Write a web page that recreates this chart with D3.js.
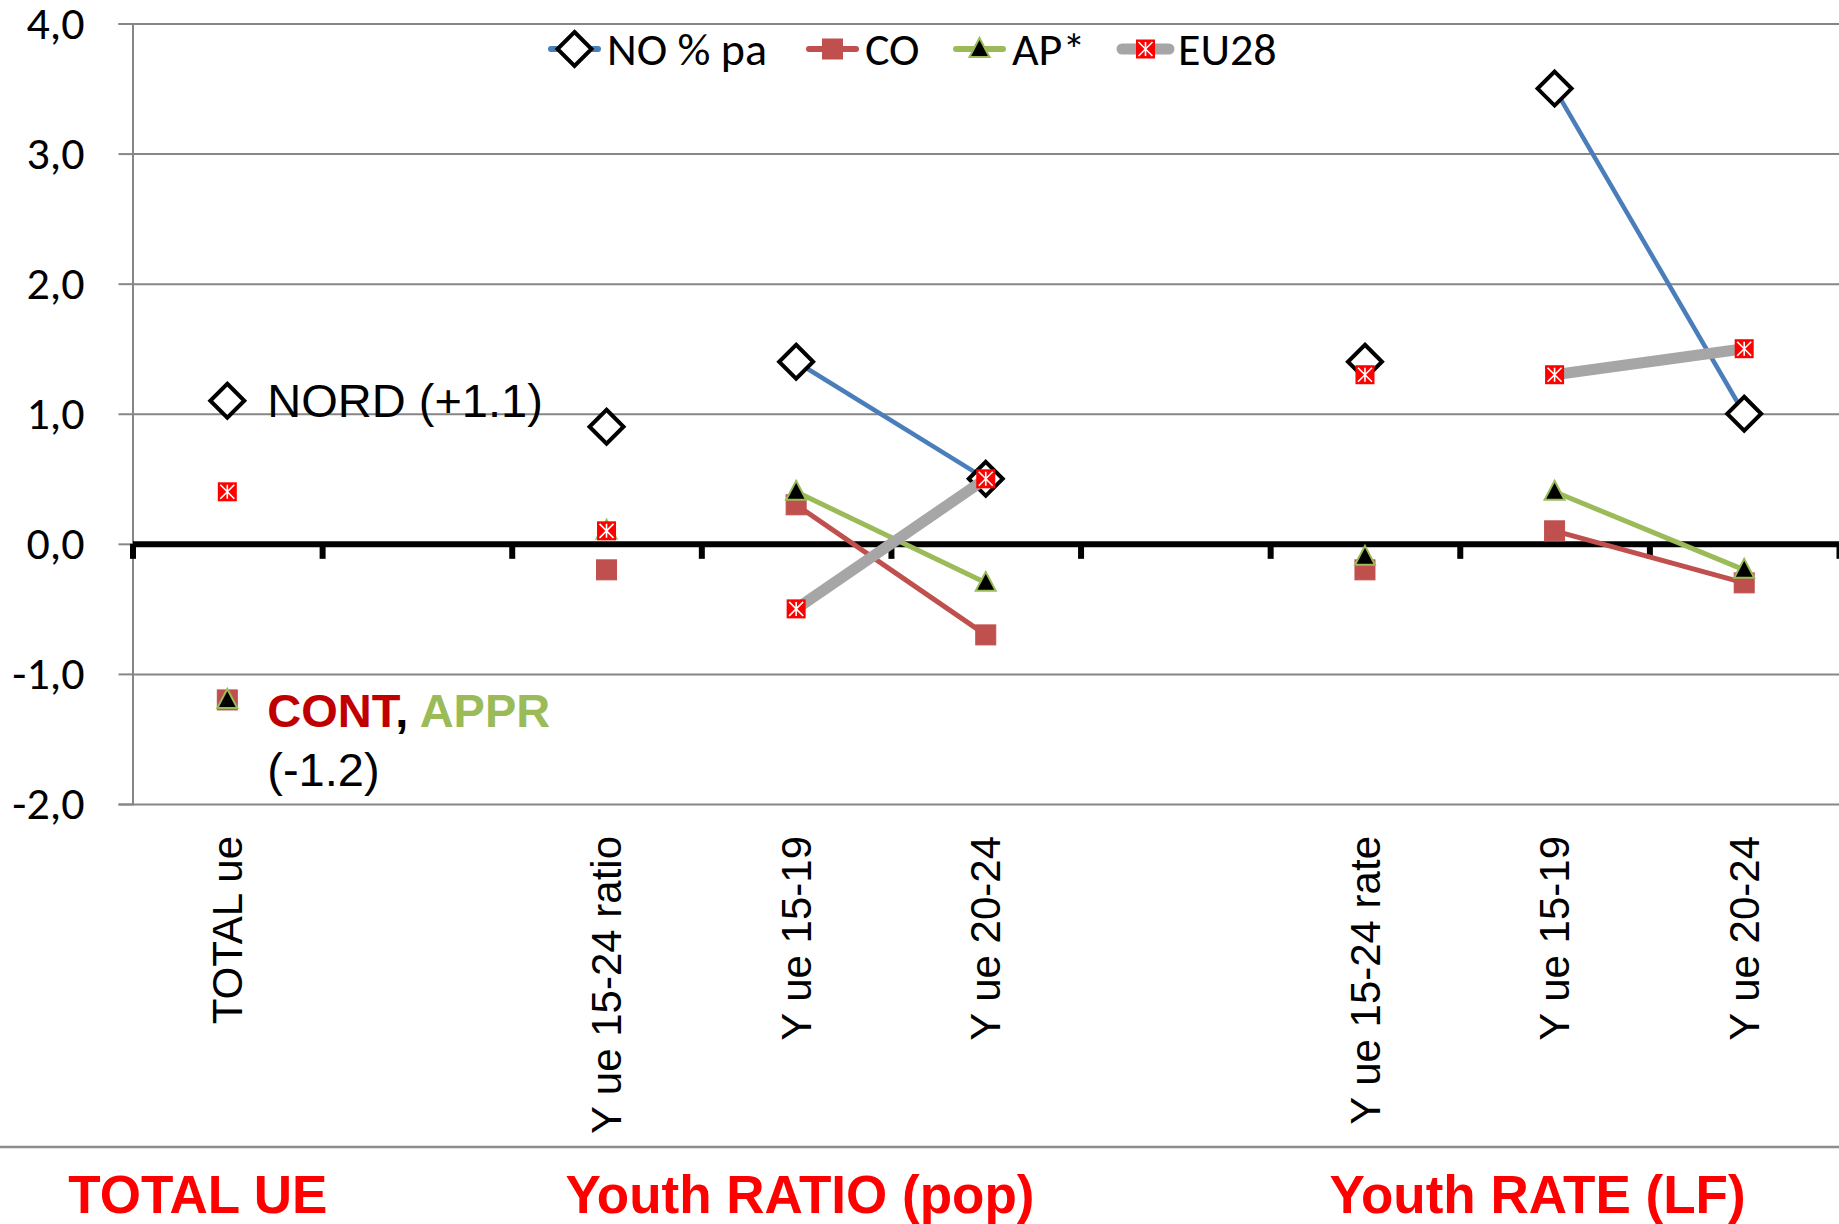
<!DOCTYPE html>
<html>
<head>
<meta charset="utf-8">
<script src="https://cdn.jsdelivr.net/npm/d3@7"></script>
<style>
  body { margin: 0; background: #fff; }
  .narrow { font-family: "Carlito", "Liberation Sans Narrow", "DejaVu Sans Condensed", sans-serif; }
  .arial { font-family: "Liberation Sans", Arial, sans-serif; }
</style>
</head>
<body>
<div id="chart"></div>
<script>
// categories (blank slots separate the three groups)
var categories = ["TOTAL ue", "", "Y ue 15-24 ratio", "Y ue 15-19", "Y ue 20-24", "", "Y ue 15-24 rate", "Y ue 15-19", "Y ue 20-24"];
var groupLabels = ["TOTAL UE", "Youth RATIO (pop)", "Youth RATE (LF)"];
var yTicks = [-2, -1, 0, 1, 2, 3, 4];

// series values (null = no point)
var noValues   = [1.1, null, 0.9, 1.4, 0.5, null, 1.4, 3.5, 1.0];
var coValues   = [-1.2, null, -0.2, 0.3, -0.7, null, -0.2, 0.1, -0.3];
var apValues   = [-1.2, null, 0.1, 0.4, -0.3, null, -0.1, 0.4, -0.2];
var eu28Values = [0.4, null, 0.1, -0.5, 0.5, null, 1.3, 1.3, 1.5];

// only these category pairs are joined by a line
var linkedPairs = [[3, 4], [7, 8]];

var width = 1839, height = 1224;
var margin = { top: 23.5, right: 0, bottom: 420, left: 132.5 };

var svg = d3.select("#chart").append("svg")
    .attr("width", width)
    .attr("height", height);

var x = d3.scaleBand()
    .domain(d3.range(categories.length))
    .range([margin.left, width - margin.right]);

// same axis in continuous category units (for boundary ticks and text placement)
var xb = d3.scaleLinear()
    .domain([0, categories.length])
    .range([margin.left, width - margin.right]);

var y = d3.scaleLinear()
    .domain([-2, 4])
    .range([height - margin.bottom, margin.top]);

var fmt = d3.formatLocale({ decimal: ",", thousands: ".", grouping: [3], currency: ["", ""], minus: "-" }).format(".1f");

function cx(i) { return x(i) + x.bandwidth() / 2; }

// gridlines
svg.append("g")
    .attr("transform", "translate(" + margin.left + ",0)")
    .call(d3.axisLeft(y).tickValues(yTicks).tickSize(-(width - margin.left)).tickFormat(""))
    .call(function (g) {
        g.select(".domain").remove();
        g.selectAll("line").attr("stroke", "#868686").attr("stroke-width", 2);
    });

// y axis
svg.append("g")
    .attr("transform", "translate(" + margin.left + ",0)")
    .call(d3.axisLeft(y).tickValues(yTicks).tickSize(14).tickPadding(34).tickFormat(fmt))
    .call(function (g) {
        g.select(".domain").attr("stroke", "#868686").attr("stroke-width", 2);
        g.selectAll("line").attr("stroke", "#868686").attr("stroke-width", 2);
        g.selectAll("text").attr("class", "narrow").attr("font-size", 46).attr("fill", "#000");
    });

// zero line with category ticks
svg.append("g")
    .attr("transform", "translate(0," + y(0) + ")")
    .call(d3.axisBottom(xb).tickValues(d3.range(categories.length + 1)).tickSize(15).tickSizeOuter(0).tickFormat(""))
    .call(function (g) {
        g.select(".domain").attr("stroke", "#000").attr("stroke-width", 6);
        g.selectAll("line").attr("stroke", "#000").attr("stroke-width", 6);
    });

// category labels
svg.append("g")
    .attr("transform", "translate(0," + y(-2) + ")")
    .call(d3.axisBottom(x).tickSize(0).tickFormat(function (i) { return categories[i]; }))
    .call(function (g) {
        g.select(".domain").remove();
        g.selectAll("text")
            .attr("class", "arial")
            .attr("font-size", 42)
            .attr("fill", "#000")
            .attr("text-anchor", "end")
            .attr("transform", "rotate(-90)")
            .attr("x", -32)
            .attr("y", 0)
            .attr("dy", "0.35em");
    });

// separator line above the group labels
svg.append("line")
    .attr("x1", 0).attr("x2", width)
    .attr("y1", 1147).attr("y2", 1147)
    .attr("stroke", "#8c8c8c").attr("stroke-width", 2.5);

// group labels, centred at these points along the category axis
var groupAt = [0.345, 3.52, 7.41];
svg.append("g").selectAll("text")
    .data(groupLabels)
    .join("text")
    .attr("class", "arial")
    .attr("x", function (d, i) { return xb(groupAt[i]); })
    .attr("y", 1213)
    .attr("text-anchor", "middle")
    .attr("font-size", 53)
    .attr("font-weight", "bold")
    .attr("fill", "#ff0000")
    .text(function (d) { return d; });

// series
var series = [
    { name: "NO % pa", values: noValues, color: "#4a7ebb", lw: 4.5, marker: "diamond" },
    { name: "CO", values: coValues, color: "#c0504d", lw: 5, marker: "square" },
    { name: "AP*", values: apValues, color: "#9bbb59", lw: 5, marker: "triangle" },
    { name: "EU28", values: eu28Values, color: "#a6a6a6", lw: 11, marker: "star" }
];

function drawMarker(g, type, px, py) {
    if (type === "diamond") {
        g.append("path")
            .attr("d", "M" + px + "," + (py - 17) + "L" + (px + 17) + "," + py + "L" + px + "," + (py + 17) + "L" + (px - 17) + "," + py + "Z")
            .attr("fill", "#fff").attr("stroke", "#000").attr("stroke-width", 4).attr("stroke-linejoin", "miter");
    } else if (type === "square") {
        g.append("rect")
            .attr("x", px - 10).attr("y", py - 10).attr("width", 20).attr("height", 20)
            .attr("fill", "#c0504d").attr("stroke", "#c0504d").attr("stroke-width", 1);
    } else if (type === "triangle") {
        g.append("path")
            .attr("d", "M" + px + "," + (py - 11) + "L" + (px + 10) + "," + (py + 8) + "L" + (px - 10) + "," + (py + 8) + "Z")
            .attr("fill", "#000").attr("stroke", "#9bbb59").attr("stroke-width", 2);
    } else {
        g.append("rect")
            .attr("x", px - 9.5).attr("y", py - 9.5).attr("width", 19).attr("height", 19)
            .attr("fill", "#ff0000");
        var s = 7;
        g.append("path")
            .attr("d", "M" + px + "," + (py - s) + "L" + px + "," + (py + s) +
                "M" + (px - s) + "," + (py - s) + "L" + (px + s) + "," + (py + s) +
                "M" + (px + s) + "," + (py - s) + "L" + (px - s) + "," + (py + s))
            .attr("stroke", "#fff").attr("stroke-width", 1.6);
    }
}

var line = d3.line()
    .x(function (d) { return cx(d.i); })
    .y(function (d) { return y(d.v); });

series.forEach(function (s) {
    var g = svg.append("g");
    linkedPairs.forEach(function (p) {
        var pts = p.map(function (i) { return { i: i, v: s.values[i] }; });
        if (pts.every(function (d) { return d.v != null; })) {
            g.append("path")
                .datum(pts)
                .attr("d", line)
                .attr("fill", "none")
                .attr("stroke", s.color)
                .attr("stroke-width", s.lw);
        }
    });
    s.values.forEach(function (v, i) {
        if (v != null) drawMarker(g, s.marker, cx(i), y(v));
    });
});

// legend
var legendX = [551, 809, 956, 1122];
var legend = svg.append("g");
series.forEach(function (s, i) {
    var lg = legend.append("g").attr("transform", "translate(" + legendX[i] + ",49)");
    lg.append("line")
        .attr("x1", 0).attr("x2", 47)
        .attr("stroke", s.color)
        .attr("stroke-width", s.marker === "star" ? 11 : 6)
        .attr("stroke-linecap", "round");
    drawMarker(lg, s.marker, 23.5, 0);
    lg.append("text")
        .attr("class", "narrow")
        .attr("x", 56)
        .attr("y", 0)
        .attr("dy", "0.35em")
        .attr("font-size", 46)
        .text(s.name);
});

// annotations
var ann = svg.append("g").attr("class", "arial");
ann.append("text")
    .attr("x", cx(0) + 40).attr("y", y(1.1)).attr("dy", "0.35em")
    .attr("font-size", 47)
    .text("NORD (+1.1)");
var t2 = ann.append("text")
    .attr("x", cx(0) + 40).attr("y", y(-1.2) + 27)
    .attr("font-size", 47).attr("font-weight", "bold");
t2.append("tspan").attr("fill", "#c00000").text("CONT");
t2.append("tspan").attr("fill", "#000").text(", ");
t2.append("tspan").attr("fill", "#9bbb59").text("APPR");
ann.append("text")
    .attr("x", cx(0) + 40).attr("y", y(-1.2) + 86)
    .attr("font-size", 47)
    .text("(-1.2)");
</script>
</body>
</html>
